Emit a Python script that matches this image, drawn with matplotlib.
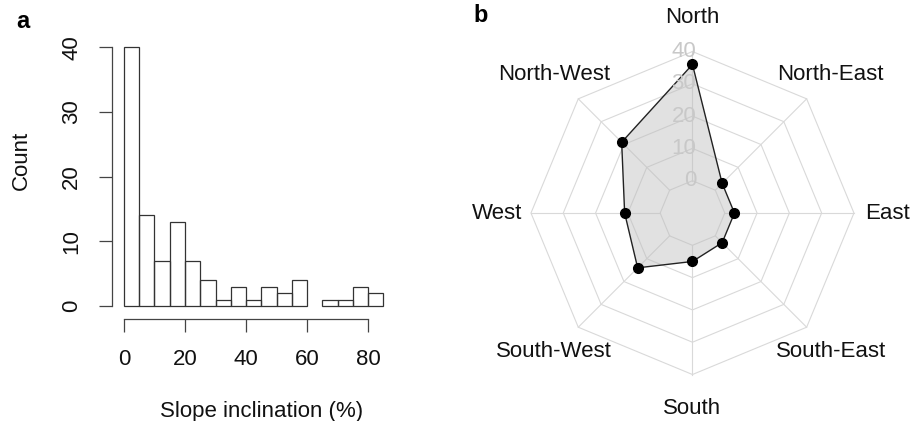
import numpy as np
import matplotlib
matplotlib.use("Agg")
import matplotlib.pyplot as plt

plt.rcParams['font.family'] = ['Liberation Sans', 'DejaVu Sans']

# panel a: slope histogram (5 % bins)
bin_edges = [0, 5, 10, 15, 20, 25, 30, 35, 40, 45, 50, 55, 60, 65, 70, 75, 80, 85]
counts = [40, 14, 7, 13, 7, 4, 1, 3, 1, 3, 2, 4, 0, 1, 1, 3, 2]
x_ticks = [0, 20, 40, 60, 80]
y_ticks = [0, 10, 20, 30, 40]

# panel b: aspect radar
directions = ['North', 'North-East', 'East', 'South-East',
              'South', 'South-West', 'West', 'North-West']
aspect_counts = [36, 3, 3, 3, 5, 14, 11, 21]
grid_values = [0, 10, 20, 30, 40]

fig = plt.figure(figsize=(9.1, 4.21), dpi=100)

# ---- histogram ----
ax = fig.add_axes([0.1248, 0.2485, 0.308, 0.6637])
left = np.array(bin_edges[:-1])
h = np.array(counts)
keep = h > 0
ax.bar(left[keep], h[keep], width=5, align='edge', fill=False,
       edgecolor='#333333', linewidth=0.9)
ax.set_xlim(-3.4, 88.4)
ax.set_ylim(-1.6, 41.6)
for s in ['top', 'right']:
    ax.spines[s].set_visible(False)
ax.spines['left'].set_bounds(0, 40)
ax.spines['bottom'].set_bounds(0, 80)
ax.spines['left'].set_position(('outward', 1))
ax.spines['bottom'].set_position(('outward', 2))
for s in ['left', 'bottom']:
    ax.spines[s].set_color('#444444')
    ax.spines[s].set_linewidth(0.9)
ax.set_xticks(x_ticks)
ax.set_yticks(y_ticks)
ax.set_yticklabels([str(v) for v in y_ticks], rotation=90, va='center')
ax.tick_params(axis='both', length=9.5, width=0.9, color='#444444',
               labelsize=16, pad=12, labelcolor='#111111')
fig.text(262 / 910, 1 - 411 / 421, 'Slope inclination (%)', fontsize=16,
         ha='center', va='center', color='#111111')
fig.text(21 / 910, 1 - 160 / 421, 'Count', fontsize=16, rotation=90,
         ha='center', va='center', color='#111111')
fig.text(23 / 910, 1 - 22 / 421, 'a', fontsize=17, fontweight='bold',
         ha='center', va='center')

# ---- radar ----
rx = fig.add_axes([0.5338, 0.003, 0.4543, 0.982])
rx.set_xlim(-64, 64)
rx.set_ylim(-64, 64)
rx.axis('off')

n = len(directions)
theta = np.arange(n) * 2 * np.pi / n
offset = 10  # value 0 sits on the innermost ring

for g in grid_values:
    r = g + offset
    tt = np.append(theta, theta[0])
    rx.plot(r * np.sin(tt), r * np.cos(tt), color='#d9d9d9', lw=0.8, zorder=1)
r_in = grid_values[0] + offset
r_out = grid_values[-1] + offset
for t in theta:
    rx.plot([r_in * np.sin(t), r_out * np.sin(t)],
            [r_in * np.cos(t), r_out * np.cos(t)],
            color='#d9d9d9', lw=0.8, zorder=1)

vals = np.array(aspect_counts) + offset
px = vals * np.sin(theta)
py = vals * np.cos(theta)
rx.fill(px, py, color='#bdbdbd', alpha=0.45, zorder=2, lw=0)
rx.plot(np.append(px, px[0]), np.append(py, py[0]), color='#222222',
        lw=1.0, zorder=3)
rx.plot(px, py, 'o', color='black', markersize=7, zorder=4)

for g in grid_values:
    rx.text(1.2, g + offset, str(g), color='#c8c8c8', fontsize=16,
            ha='right', va='center', zorder=5)

r_lab = 60.5
for t, name in zip(theta, directions):
    rx.text(r_lab * np.sin(t), r_lab * np.cos(t), name, fontsize=16,
            ha='center', va='center', color='#111111')

fig.text(481 / 910, 1 - 16 / 421, 'b', fontsize=17, fontweight='bold',
         ha='center', va='center')

plt.savefig('out.png', dpi=100)
plt.close()
